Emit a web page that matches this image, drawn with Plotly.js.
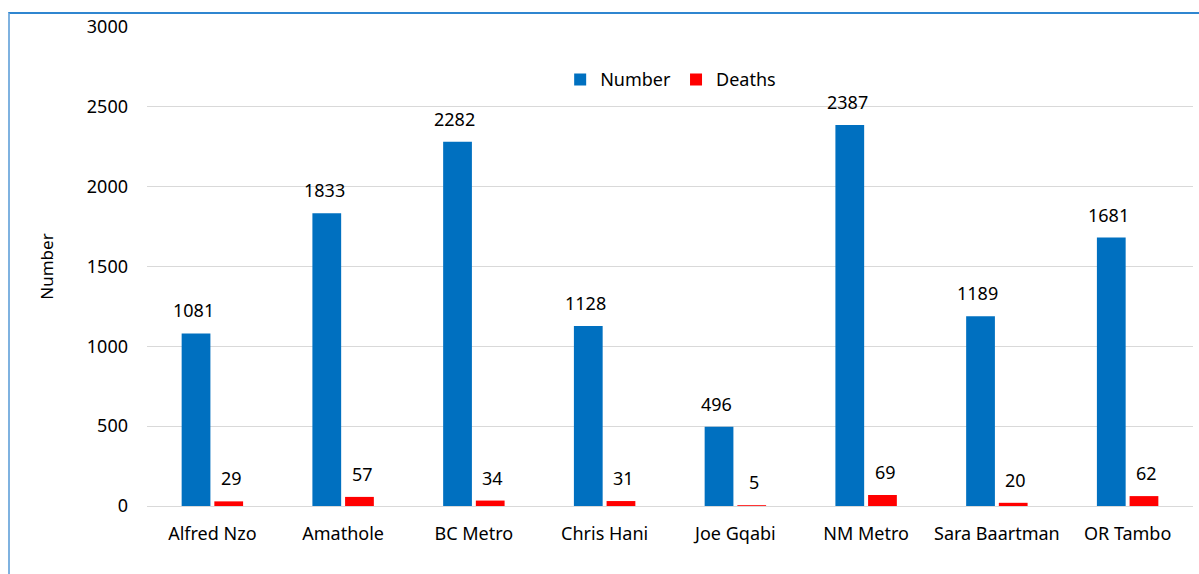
<!DOCTYPE html>
<html>
<head>
<meta charset="utf-8">
<script src="https://cdn.plot.ly/plotly-3.0.1.min.js"></script>
<style>
html,body{margin:0;padding:0;background:#fff;}
#chart{width:1199px;height:574px;position:absolute;left:0;top:0;}
#frame{position:absolute;left:8px;top:12px;width:1300px;height:700px;border-left:2px solid #7fb2e0;border-top:2px solid #2f86d0;pointer-events:none;box-sizing:border-box;}
</style>
</head>
<body>
<div id="chart"></div>
<div id="frame"></div>
<script>
var categories = ["Alfred Nzo","Amathole","BC Metro","Chris Hani","Joe Gqabi","NM Metro","Sara Baartman","OR Tambo"];
var numberValues = [1081,1833,2282,1128,496,2387,1189,1681];
var deathValues = [29,57,34,31,5,69,20,62];
var yTicks = [0,500,1000,1500,2000,2500,3000];

var font = "Noto Sans, Open Sans, sans-serif";

var traces = [
  {type:"bar", name:"Number", x:categories, y:numberValues, marker:{color:"#0070C0"}},
  {type:"bar", name:"Deaths", x:categories, y:deathValues, marker:{color:"#FF0000"}}
];

var annotations = [];
categories.forEach(function(c,i){
  annotations.push({x:c, y:numberValues[i], xref:"x", yref:"y", text:String(numberValues[i]), showarrow:false, xshift:-19, yshift:9, yanchor:"bottom", font:{family:font,size:18,color:"#000"}});
  annotations.push({x:c, y:deathValues[i], xref:"x", yref:"y", text:String(deathValues[i]), showarrow:false, xshift:19, yshift:9, yanchor:"bottom", font:{family:font,size:18,color:"#000"}});
});

var layout = {
  width:1199, height:574,
  margin:{l:147, r:6, t:27, b:68},
  paper_bgcolor:"rgba(0,0,0,0)", plot_bgcolor:"#fff",
  barmode:"group", bargap:0.5, bargroupgap:0.12,
  font:{family:font, size:18, color:"#000"},
  showlegend:true,
  legend:{orientation:"h", x:0.395, y:0.89, xanchor:"left", yanchor:"middle", font:{family:font,size:18,color:"#000"}, itemwidth:30, traceorder:"normal"},
  xaxis:{type:"category", tickfont:{family:font,size:18,color:"#000"}, showgrid:false, showline:false, ticks:"", ticklabelstandoff:15},
  yaxis:{range:[0,3000], tickvals:yTicks, ticktext:yTicks.map(String), showgrid:true, gridcolor:"#d9d9d9", gridwidth:1, zeroline:true, zerolinecolor:"#d9d9d9", zerolinewidth:1, showline:false, ticks:"", tickfont:{family:font,size:18,color:"#000"}, ticklabelstandoff:18,
    title:{text:"Number", font:{family:font,size:17,color:"#000"}, standoff:28}},
  annotations:annotations
};

Plotly.newPlot("chart", traces, layout, {displayModeBar:false, staticPlot:true});
</script>
</body>
</html>
